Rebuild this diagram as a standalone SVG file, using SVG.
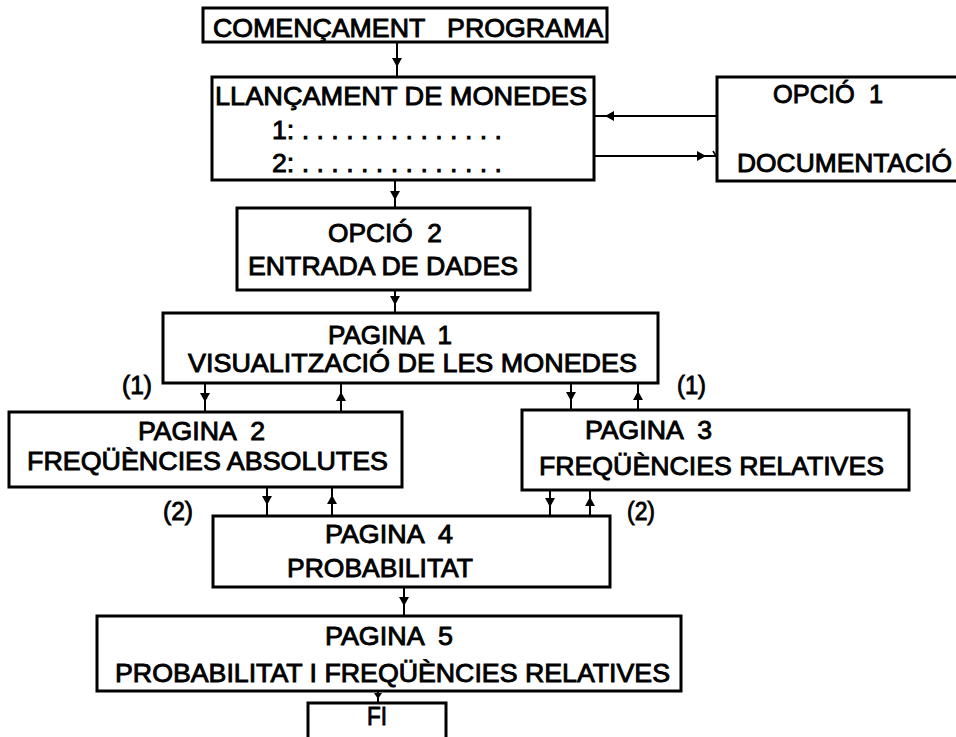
<svg xmlns="http://www.w3.org/2000/svg" width="956" height="737" viewBox="0 0 956 737">
<defs>
<marker id="ah" markerUnits="userSpaceOnUse" markerWidth="12" markerHeight="12" refX="4" refY="0" viewBox="-1 -6 12 12" orient="auto">
<path d="M0,-5 L9,0 L0,5 Z" fill="#000"/>
</marker>
<marker id="ahs" markerUnits="userSpaceOnUse" markerWidth="10" markerHeight="10" refX="3" refY="0" viewBox="-1 -5 10 10" orient="auto">
<path d="M0,-4 L6,0 L0,4 Z" fill="#000"/>
</marker>
<style>
.box{fill:#fff;stroke:#000;stroke-width:3}
.t{font-family:"Liberation Sans",Arial,sans-serif;font-size:26px;fill:#000;stroke:#000;stroke-width:0.9;white-space:pre}
.c{fill:none;stroke:#000;stroke-width:2;marker-mid:url(#ah)}
.cs{fill:none;stroke:#000;stroke-width:2;marker-mid:url(#ahs)}
</style>
</defs>
<rect width="956" height="737" fill="#fff"/>
<g id="connectors">
<polyline class="c" points="397,42 397,62 397,77"/>
<polyline class="c" points="717,116 610,116 594,116"/>
<polyline class="c" points="594,156 701,156 717,156"/>
<line x1="713" y1="151" x2="716" y2="156" stroke="#000" stroke-width="1.5"/>
<polyline class="c" points="395,180 395,195 395,208"/>
<polyline class="c" points="395,290 395,300 395,313"/>
<polyline class="c" points="205,383 205,397 205,412"/>
<polyline class="c" points="341,412 341,397 341,383"/>
<polyline class="c" points="571,383 571,396 571,410"/>
<polyline class="c" points="638,410 638,396 638,383"/>
<polyline class="c" points="267,487 267,500 267,516"/>
<polyline class="c" points="332,516 332,500 332,487"/>
<polyline class="c" points="550,490 550,502 550,516"/>
<polyline class="c" points="590,516 590,502 590,490"/>
<polyline class="c" points="404,587 404,601 404,616"/>
<polyline class="cs" points="378,691 378,696 378,703"/>
</g>
<g id="n-start">
<rect class="box" x="203" y="8" width="404" height="34"/>
<text class="t" x="213" y="37" textLength="390" lengthAdjust="spacingAndGlyphs">COMENÇAMENT   PROGRAMA</text>
</g>
<g id="n-llancament">
<rect class="box" x="212" y="77" width="382" height="103"/>
<text class="t" x="215" y="105" textLength="372" lengthAdjust="spacingAndGlyphs">LLANÇAMENT DE MONEDES</text>
<text class="t" x="272" y="139" textLength="230" lengthAdjust="spacingAndGlyphs">1: . . . . . . . . . . . . . .</text>
<text class="t" x="272" y="172" textLength="230" lengthAdjust="spacingAndGlyphs">2: . . . . . . . . . . . . . .</text>
</g>
<g id="n-opcio1">
<rect class="box" x="717" y="77" width="250" height="104"/>
<text class="t" x="773" y="103" textLength="110" lengthAdjust="spacingAndGlyphs">OPCIÓ  1</text>
<text class="t" x="737" y="172" textLength="215" lengthAdjust="spacingAndGlyphs">DOCUMENTACIÓ</text>
</g>
<g id="n-opcio2">
<rect class="box" x="237" y="208" width="293" height="82"/>
<text class="t" x="328" y="242" textLength="114" lengthAdjust="spacingAndGlyphs">OPCIÓ  2</text>
<text class="t" x="248" y="275" textLength="270" lengthAdjust="spacingAndGlyphs">ENTRADA DE DADES</text>
</g>
<g id="n-pagina1">
<rect class="box" x="163" y="313" width="495" height="70"/>
<text class="t" x="328" y="344" textLength="124" lengthAdjust="spacingAndGlyphs">PAGINA  1</text>
<text class="t" x="188" y="372" textLength="449" lengthAdjust="spacingAndGlyphs">VISUALITZACIÓ DE LES MONEDES</text>
</g>
<g id="labels">
<text class="t" x="122" y="394" textLength="30" lengthAdjust="spacingAndGlyphs">(1)</text>
<text class="t" x="677" y="394" textLength="29" lengthAdjust="spacingAndGlyphs">(1)</text>
<text class="t" x="163" y="520" textLength="30" lengthAdjust="spacingAndGlyphs">(2)</text>
<text class="t" x="627" y="520" textLength="28" lengthAdjust="spacingAndGlyphs">(2)</text>
</g>
<g id="n-pagina2">
<rect class="box" x="9" y="412" width="393" height="75"/>
<text class="t" x="138" y="440" textLength="127" lengthAdjust="spacingAndGlyphs">PAGINA  2</text>
<text class="t" x="27" y="470" textLength="361" lengthAdjust="spacingAndGlyphs">FREQÜÈNCIES ABSOLUTES</text>
</g>
<g id="n-pagina3">
<rect class="box" x="522" y="410" width="387" height="80"/>
<text class="t" x="585" y="439" textLength="127" lengthAdjust="spacingAndGlyphs">PAGINA  3</text>
<text class="t" x="539" y="475" textLength="345" lengthAdjust="spacingAndGlyphs">FREQÜÈNCIES RELATIVES</text>
</g>
<g id="n-pagina4">
<rect class="box" x="213" y="516" width="397" height="71"/>
<text class="t" x="325" y="543" textLength="128" lengthAdjust="spacingAndGlyphs">PAGINA  4</text>
<text class="t" x="287" y="577" textLength="186" lengthAdjust="spacingAndGlyphs">PROBABILITAT</text>
</g>
<g id="n-pagina5">
<rect class="box" x="97" y="616" width="584" height="75"/>
<text class="t" x="325" y="645" textLength="128" lengthAdjust="spacingAndGlyphs">PAGINA  5</text>
<text class="t" x="115" y="682" textLength="555" lengthAdjust="spacingAndGlyphs">PROBABILITAT I FREQÜÈNCIES RELATIVES</text>
</g>
<g id="n-fi">
<rect class="box" x="308" y="703" width="138" height="40"/>
<text class="t" x="367" y="725" textLength="20" lengthAdjust="spacingAndGlyphs">FI</text>
</g>
</svg>
